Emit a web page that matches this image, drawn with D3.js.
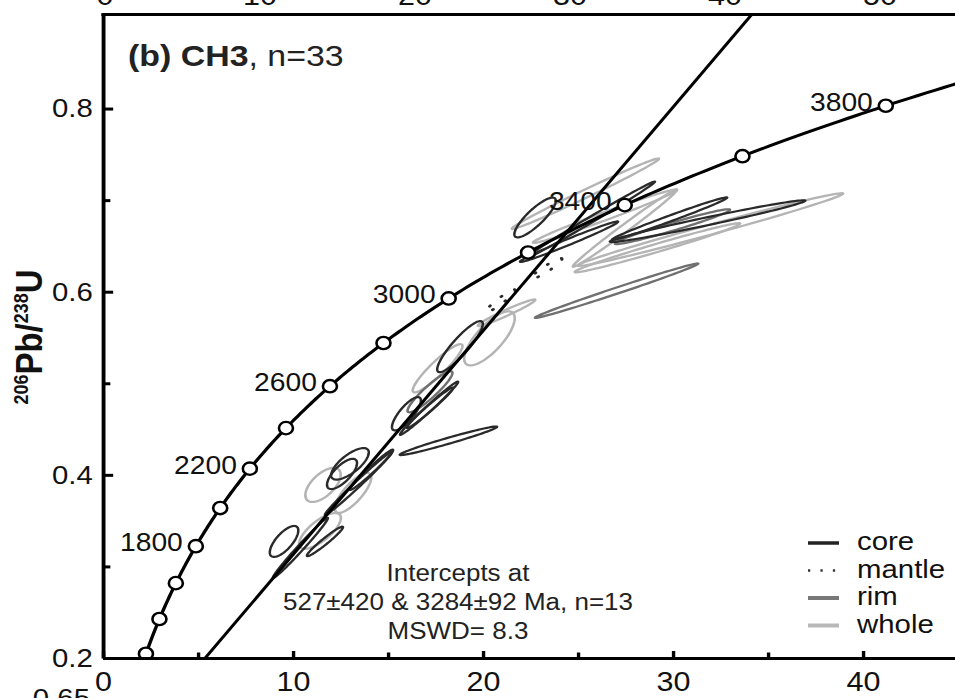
<!DOCTYPE html>
<html><head><meta charset="utf-8">
<script src="https://cdn.jsdelivr.net/npm/d3@7"></script>
<style>html,body{margin:0;padding:0;background:#fff;overflow:hidden}</style>
</head><body><svg id="chart"></svg>
<script>
// ---- data ----
const xTicksMajor = [0, 10, 20, 30, 40];
const xTicksMinor = [5, 15, 25, 35];
const yTicksMajor = [0.2, 0.4, 0.6, 0.8];
const yTicksMinor = [0.3, 0.5, 0.7];
const markerAges = [1200, 1400, 1600, 1800, 2000, 2200, 2400, 2600, 2800, 3000, 3200, 3400, 3600, 3800];
const labelAges = [1800, 2200, 2600, 3000, 3400, 3800];
const interceptAges = [527, 3284];
// [207Pb/235U, 206Pb/238U, half-extent x, half-extent y, rho]
const coreEllipses = [
  [22.74, 0.681, 1.09, 0.0217, 0.844],
  [25.68, 0.6787, 3.37, 0.0416, 0.996],
  [24.53, 0.6546, 2.58, 0.0221, 0.987],
  [31.82, 0.677, 5.14, 0.0228, 0.981],
  [29.82, 0.6798, 3.03, 0.0232, 0.989],
  [18.79, 0.540, 1.20, 0.0279, 0.889],
  [15.97, 0.4667, 0.76, 0.0182, 0.796],
  [17.16, 0.4727, 1.53, 0.0291, 0.988],
  [17.21, 0.4732, 1.22, 0.0221, 0.981],
  [18.18, 0.4372, 2.56, 0.0156, 0.976],
  [13.00, 0.412, 0.99, 0.0172, 0.72],
  [12.58, 0.401, 0.79, 0.0165, 0.719],
  [13.45, 0.3907, 1.77, 0.0345, 0.9915],
  [14.13, 0.4055, 1.14, 0.022, 0.979],
  [9.53, 0.3273, 0.75, 0.0169, 0.708],
  [10.39, 0.3202, 1.45, 0.0329, 0.989],
  [11.68, 0.3273, 0.95, 0.0161, 0.965]
];
const rimEllipses = [
  [29.97, 0.671, 3.03, 0.019, 0.971],
  [27.03, 0.6011, 4.29, 0.0297, 0.993],
  [17.21, 0.4907, 1.18, 0.0224, 0.921]
];
const mantleEllipses = [
  [23.34, 0.6251, 0.82, 0.0113, 0.939],
  [20.92, 0.590, 0.77, 0.0124, 0.944]
];
const wholeEllipses = [
  [25.39, 0.707, 3.87, 0.0385, 0.992],
  [26.42, 0.6825, 3.79, 0.0292, 0.987],
  [27.47, 0.6694, 2.74, 0.0422, 0.992],
  [31.97, 0.6678, 6.98, 0.0397, 0.990],
  [29.18, 0.648, 4.35, 0.0268, 0.985],
  [20.34, 0.549, 1.33, 0.0295, 0.752],
  [21.24, 0.577, 1.51, 0.0145, 0.969],
  [17.61, 0.5164, 1.31, 0.0263, 0.918],
  [11.58, 0.389, 0.93, 0.0186, 0.60],
  [13.16, 0.3803, 0.96, 0.0218, 0.777],
  [11.42, 0.3388, 1.10, 0.0195, 0.727]
];
const legendItems = ["core", "mantle", "rim", "whole"];
const upperPanelTicks = [0, 10, 20, 30, 40, 50];
const lowerPanelLabel = "0.65";
const titleBold = "(b) CH3";
const titleRest = ", n=33";
const interceptLines = ["Intercepts at", "527\u00b1420 & 3284\u00b192 Ma, n=13", "MSWD= 8.3"];

// ---- layout ----
const W = 955, H = 698, SX = 1.13;
const L238 = 1.55125e-10, L235 = 9.8485e-10;
const conc = t => [Math.exp(L235 * t * 1e6) - 1, Math.exp(L238 * t * 1e6) - 1];

const svg = d3.select("#chart").attr("width", W).attr("height", H)
  .attr("viewBox", `0 0 ${W / SX} ${H}`).attr("preserveAspectRatio", "none")
  .style("font-family", "'Liberation Sans', Arial, Helvetica, sans-serif");

const x = d3.scaleLinear().domain([0, 45]).range([103 / SX, (103 + 45 * 19) / SX]);
const y = d3.scaleLinear().domain([0.2, 0.9027]).range([658, 14.5]);
const xTop = d3.scaleLinear().domain([0, 50]).range([105 / SX, 880 / SX]);

svg.append("defs").append("clipPath").attr("id", "plotclip").append("rect")
  .attr("x", x(0)).attr("y", y.range()[1]).attr("width", W / SX - x(0)).attr("height", y.range()[0] - y.range()[1]);

const plot = svg.append("g").attr("clip-path", "url(#plotclip)");

function ellipsePath(e) {
  const [cx, cy, sx, sy, r] = e;
  const k = Math.sqrt(1 - r * r);
  const pts = d3.range(0, 97).map(i => {
    const t = i / 96 * 2 * Math.PI;
    return [x(cx + sx * Math.cos(t)), y(cy + sy * (r * Math.cos(t) + k * Math.sin(t)))];
  });
  return d3.line()(pts) + "Z";
}
function drawEllipses(arr, color, width, dash) {
  plot.append("g").selectAll("path").data(arr).join("path")
    .attr("d", ellipsePath).attr("fill", "none").attr("stroke", color)
    .attr("stroke-width", width).attr("stroke-dasharray", dash || null)
    .attr("stroke-linecap", dash ? "round" : null);
}
drawEllipses(wholeEllipses, "#b4b4b4", 2.3);
drawEllipses(rimEllipses, "#707070", 2.3);
drawEllipses(coreEllipses, "#2a2a2a", 2.2);
drawEllipses(mantleEllipses, "#2a2a2a", 2.6, "1 13");

// concordia curve
const ages = d3.range(900, 4400, 10);
plot.append("path").attr("d", d3.line().x(d => x(conc(d)[0])).y(d => y(conc(d)[1]))(ages))
  .attr("fill", "none").attr("stroke", "#000").attr("stroke-width", 3);

// discordia
const p1 = conc(interceptAges[0]), p2 = conc(interceptAges[1]);
const slope = (p2[1] - p1[1]) / (p2[0] - p1[0]);
const dx0 = 0, dx1 = 45;
plot.append("line")
  .attr("x1", x(dx0)).attr("y1", y(p1[1] + slope * (dx0 - p1[0])))
  .attr("x2", x(dx1)).attr("y2", y(p1[1] + slope * (dx1 - p1[0])))
  .attr("stroke", "#000").attr("stroke-width", 2.8);

// markers
plot.append("g").selectAll("circle").data(markerAges).join("circle")
  .attr("cx", d => x(conc(d)[0])).attr("cy", d => y(conc(d)[1])).attr("r", 6.2)
  .attr("fill", "#fff").attr("stroke", "#000").attr("stroke-width", 2.3);

svg.append("g").selectAll("text").data(labelAges).join("text")
  .attr("x", d => x(conc(d)[0]) - 13 / SX).attr("y", d => y(conc(d)[1]) + 5)
  .attr("text-anchor", "end").attr("font-size", 25).attr("fill", "#111").text(d => d);

// axes
function styleAxis(g) {
  g.attr("font-family", null).attr("font-size", null);
  g.selectAll("text").attr("fill", "#111");
  g.selectAll("line").attr("stroke", "#000").attr("stroke-width", 3);
  g.select(".domain").attr("stroke", "#000").attr("stroke-width", 3);
}
const gx = svg.append("g").attr("transform", `translate(0,${y(0.2)})`)
  .call(d3.axisBottom(x).tickValues(xTicksMajor).tickSize(-7).tickSizeOuter(0).tickPadding(14).tickFormat(d3.format("d")));
styleAxis(gx); gx.selectAll("text").attr("font-size", 27);
const gxm = svg.append("g").attr("transform", `translate(0,${y(0.2)})`)
  .call(d3.axisBottom(x).tickValues(xTicksMinor).tickSize(-5.5).tickSizeOuter(0).tickFormat(""));
styleAxis(gxm); gxm.select(".domain").remove();

const gy = svg.append("g").attr("transform", `translate(${x(0)},0)`)
  .call(d3.axisLeft(y).tickValues(yTicksMajor).tickSize(-9).tickSizeOuter(0).tickPadding(9).tickFormat(d3.format(".1f")));
styleAxis(gy); gy.selectAll("text").attr("font-size", 26);
gy.select(".domain").attr("stroke-width", 3.4);
const gym = svg.append("g").attr("transform", `translate(${x(0)},0)`)
  .call(d3.axisLeft(y).tickValues(yTicksMinor).tickSize(-6.5).tickSizeOuter(0).tickFormat(""));
styleAxis(gym); gym.select(".domain").remove();

// top border
svg.append("line").attr("x1", x(0) - 1.5).attr("x2", W / SX).attr("y1", y.range()[1]).attr("y2", y.range()[1])
  .attr("stroke", "#000").attr("stroke-width", 3);

// cut-off labels of adjacent panels
svg.append("g").selectAll("text").data(upperPanelTicks).join("text")
  .attr("x", d => xTop(d)).attr("y", 5).attr("text-anchor", "middle").attr("font-size", 27).attr("fill", "#111").text(d => d);
svg.append("text").attr("x", 90 / SX).attr("y", 707).attr("text-anchor", "end").attr("font-size", 26).attr("fill", "#111").text(lowerPanelLabel);

// y label
const yl = svg.append("text").attr("transform", `translate(${42 / SX},337) rotate(-90)`)
  .attr("text-anchor", "middle").attr("font-weight", "bold").attr("fill", "#111");
yl.append("tspan").attr("font-size", 18).attr("dy", -12).text("206");
yl.append("tspan").attr("font-size", 33).attr("dy", 12).text("Pb/");
yl.append("tspan").attr("font-size", 18).attr("dy", -12).text("238");
yl.append("tspan").attr("font-size", 33).attr("dy", 12).text("U");

// title
const tt = svg.append("text").attr("x", 128 / SX).attr("y", 66).attr("font-size", 30).attr("fill", "#222");
tt.append("tspan").attr("font-weight", "bold").text(titleBold);
tt.append("tspan").text(titleRest);

// intercept text
svg.append("g").selectAll("text").data(interceptLines).join("text")
  .attr("x", 458 / SX).attr("y", (d, i) => 581 + i * 29).attr("text-anchor", "middle")
  .attr("font-size", 23).attr("fill", "#222").text(d => d);

// legend
const legStyles = {
  core: {stroke: "#222", w: 3.5, dash: null},
  mantle: {stroke: "#333", w: 2.5, dash: "2 9"},
  rim: {stroke: "#787878", w: 4, dash: null},
  whole: {stroke: "#b8b8b8", w: 4, dash: null}
};
const lg = svg.append("g").selectAll("g").data(legendItems).join("g")
  .attr("transform", (d, i) => `translate(0,${543 + i * 27.5})`);
lg.append("line").attr("x1", 808 / SX).attr("x2", 839 / SX).attr("y1", 0).attr("y2", 0)
  .attr("stroke", d => legStyles[d].stroke).attr("stroke-width", d => legStyles[d].w)
  .attr("stroke-dasharray", d => legStyles[d].dash);
lg.append("text").attr("x", 857 / SX).attr("y", 7).attr("font-size", 26).attr("fill", "#111").text(d => d);
</script></body></html>
